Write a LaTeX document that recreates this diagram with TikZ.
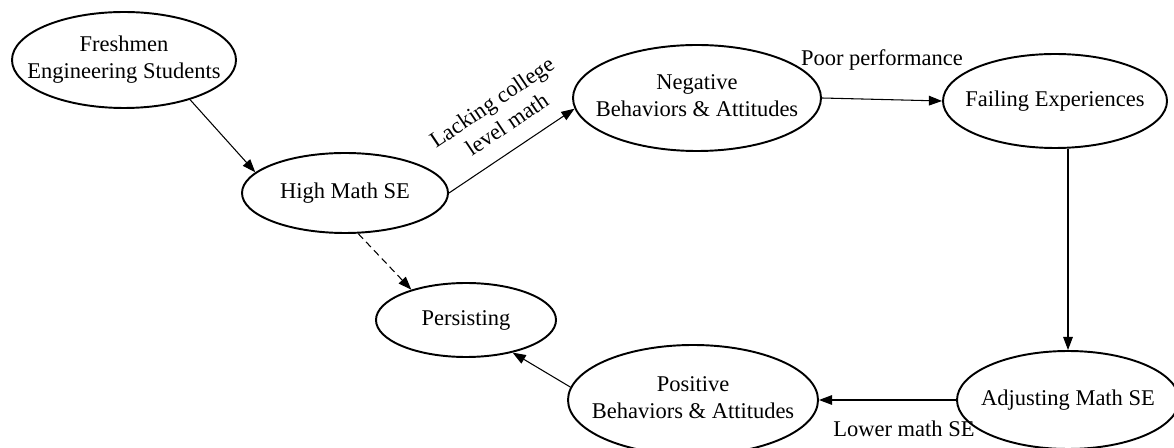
\documentclass[tikz,border=0pt]{standalone}
\usepackage{fontspec}
\setmainfont{Liberation Serif}
\usetikzlibrary{arrows.meta}
\usetikzlibrary{shapes.geometric}
\newcommand{\flatbox}[1]{\makebox[0pt]{\begin{tabular}{@{}c@{}}#1\end{tabular}}}
\tikzset{
    bubble/.style={
        draw,
        ellipse,
        line width=1.1pt,
        inner sep=0pt
    },
    link/.style={
        -{Triangle[length=7.5pt, width=5.5pt]},
        line width=0.6pt
    },
    every node/.style={font=\fontsize{12.8}{15.2}\selectfont}
}

\begin{document}
\begin{tikzpicture}
    \useasboundingbox (0,0) rectangle (23.48,-8.96);

    \node[bubble, minimum width=4.48cm, minimum height=1.92cm] (fresh) at (2.48,-1.20) {\flatbox{Freshmen\\Engineering Students}};
    \node[bubble, minimum width=4.12cm, minimum height=1.60cm] (high) at (6.90,-3.86) {\flatbox{High Math SE}};
    \node[bubble, minimum width=4.96cm, minimum height=2.12cm] (neg) at (13.94,-1.96) {\flatbox{Negative\\Behaviors \& Attitudes}};
    \node[bubble, minimum width=4.48cm, minimum height=1.88cm] (fail) at (21.10,-2.02) {\flatbox{Failing Experiences}};
    \node[bubble, minimum width=3.60cm, minimum height=1.48cm] (persist) at (9.32,-6.40) {\flatbox{Persisting}};
    \node[bubble, minimum width=5.00cm, minimum height=2.20cm] (pos) at (13.86,-8.00) {\flatbox{Positive\\Behaviors \& Attitudes}};
    \node[bubble, minimum width=4.44cm, minimum height=1.96cm] (adj) at (21.36,-8.00) {\flatbox{Adjusting Math SE}};

    \draw[link] (fresh.-31) -- (high.167);
    \draw[link] (high.east) -- node[sloped, above=6pt, pos=0.57, align=center] {Lacking college\\level math} (neg.185);
    \draw[link] (neg.east) -- node[above=0.45cm] {Poor performance} (fail.west);
    \draw[link] (fail.south -| adj.north) -- (adj.north);
    \draw[link] (adj.west) -- node[below=0.3cm, pos=0.38] {Lower math SE} (pos.east);
    \draw[link] (pos.174) -- (persist.-35);
    \draw[link, dash pattern=on 4pt off 2.5pt] (high.-72) -- (persist.151);
\end{tikzpicture}
\end{document}
